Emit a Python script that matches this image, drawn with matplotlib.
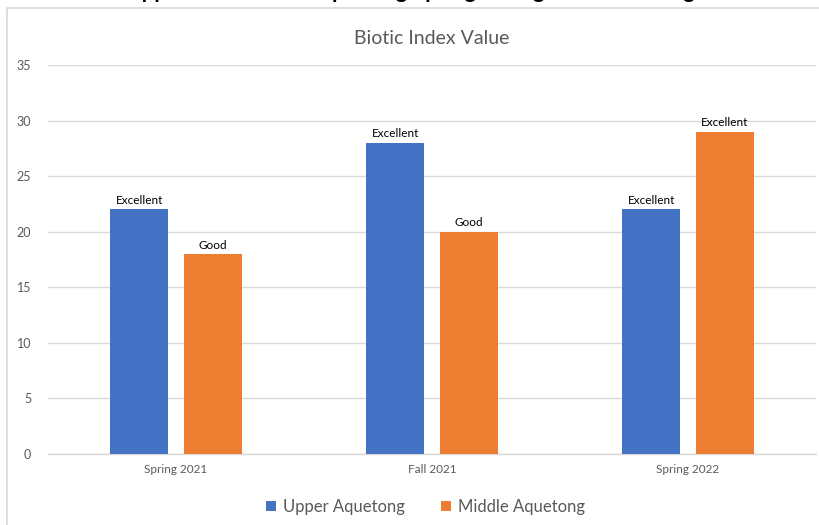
import numpy as np
import matplotlib.pyplot as plt
from matplotlib.patches import Rectangle

# ------------------------------------------------------------
# data
# ------------------------------------------------------------
seasons = ["Spring 2021", "Fall 2021", "Spring 2022"]
upper_values = [22, 28, 22]
middle_values = [18, 20, 29]
upper_ratings = ["Excellent", "Excellent", "Excellent"]
middle_ratings = ["Good", "Good", "Excellent"]
y_ticks = [0, 5, 10, 15, 20, 25, 30, 35]

BLUE = "#4472C4"
ORANGE = "#ED7D31"
GRID = "#D9D9D9"
TEXT = "#595959"

plt.rcParams["font.family"] = ["Lato", "DejaVu Sans"]

fig = plt.figure(figsize=(8.2, 5.25), dpi=100)

# chart frame
fig.patches.append(Rectangle((7 / 820, -0.05), 1.0, 1 - 8 / 525 + 0.05,
                             transform=fig.transFigure, fill=False,
                             edgecolor=GRID, linewidth=1.2))

# heading above the chart frame (only the descenders fall inside the page)
fig.text(0.5, 1 + 1.5 / 525, "Upper and Middle Aquetong Spring Biological Monitoring",
         ha="center", va="baseline", fontsize=16, fontweight="bold", color="black")

ax = fig.add_axes([48 / 820, 1 - 454 / 525, 768 / 820, 389 / 525])

x = np.arange(len(seasons))
width = 0.227
offset = 0.143

bars_upper = ax.bar(x - offset, upper_values, width, color=BLUE, label="Upper Aquetong", zorder=3)
bars_middle = ax.bar(x + offset, middle_values, width, color=ORANGE, label="Middle Aquetong", zorder=3)

# rating labels above bars
for bars, ratings in [(bars_upper, upper_ratings), (bars_middle, middle_ratings)]:
    for bar, rating in zip(bars, ratings):
        ax.text(bar.get_x() + bar.get_width() / 2, bar.get_height() + 0.3, rating,
                ha="center", va="bottom", fontsize=8.5, color="black", zorder=4)

ax.set_xlim(-0.5, len(seasons) - 0.5)
ax.set_ylim(0, 35)
ax.set_yticks(y_ticks)
ax.set_xticks(x)
ax.set_xticklabels(seasons)

ax.tick_params(axis="both", length=0, labelsize=8.5, colors=TEXT)
ax.tick_params(axis="y", labelsize=9, pad=12)
ax.tick_params(axis="x", pad=7)

ax.grid(axis="y", color=GRID, linewidth=1, zorder=0)
for side in ["top", "right", "left"]:
    ax.spines[side].set_visible(False)
ax.spines["bottom"].set_color(GRID)
ax.spines["bottom"].set_linewidth(1)

ax.set_title("Biotic Index Value", fontsize=14, color=TEXT, pad=15)

fig.legend(loc="center", bbox_to_anchor=(0.519, 1 - 507 / 525), ncol=2, frameon=False,
           fontsize=12, labelcolor=TEXT, handlelength=0.6, handleheight=0.6,
           handletextpad=0.4, columnspacing=2.2)

plt.savefig("out.png", dpi=100)
plt.close()
